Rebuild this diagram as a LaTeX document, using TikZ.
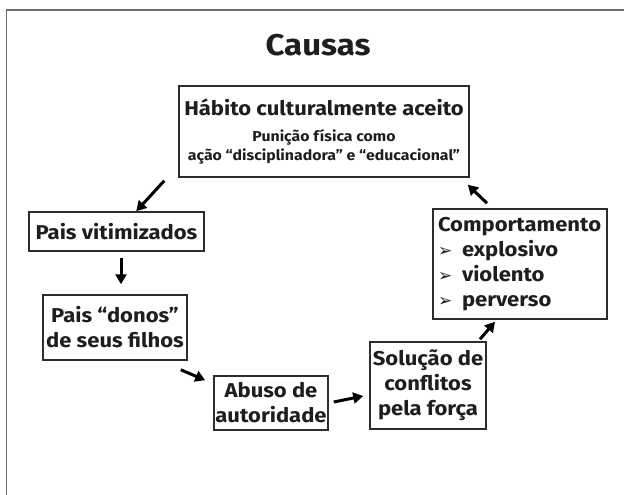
\documentclass[tikz,border=0pt]{standalone}
\usepackage{fontspec}
\setmainfont{Fira Sans}[FakeStretch=1.1]
\newfontfamily\bulletfont{DejaVu Sans}
\usetikzlibrary{arrows.meta}
\definecolor{frameGray}{RGB}{110,110,110}
\definecolor{boxGray}{RGB}{45,45,45}
\definecolor{textGray}{RGB}{30,30,30}

\newcommand{\bulletitem}[1]{\makebox[24pt][l]{\bulletfont\fontsize{17}{17}\selectfont ➢}#1}

\begin{document}
\begin{tikzpicture}[%
    x=1pt, y=-1pt,
    causebox/.style={
        draw=boxGray,
        line width=1.5pt,
        inner sep=0pt,
        align=center,
        text=textGray,
        font=\bfseries\fontsize{20}{25}\selectfont,
    },
    arr/.style={
        line width=3pt,
        -{Triangle[length=10pt,width=11pt]},
    },
]
\useasboundingbox (0,0) rectangle (624,495);

% draw slide frame
\draw [frameGray, line width=1.2pt] (6.5,495) -- (6.5,10) -- (624,10);

% place title
\node[text=textGray, font=\bfseries\fontsize{30}{30}\selectfont] (title) at (318,45) {Causas};

% place boxes
\node[causebox, minimum width=290pt, minimum height=91pt] (habito) at (324,131.5)
    {Hábito culturalmente aceito\\[0.5pt]
     {\fontsize{14.4}{19}\selectfont Punição física como}\\[-5.7pt]
     {\fontsize{14.4}{19}\selectfont ação “disciplinadora” e “educacional”}};
\node[causebox, minimum width=175pt, minimum height=39pt] (vitimas) at (116.5,231.5)
    {Pais vitimizados};
\node[causebox, minimum width=144pt, minimum height=65pt] (donos) at (115,327.5)
    {Pais “donos”\\de seus filhos};
\node[causebox, minimum width=114pt, minimum height=54pt] (abuso) at (271,403)
    {Abuso de\\autoridade};
\node[causebox, minimum width=116pt, minimum height=87pt] (solucao) at (428,385.5)
    {Solução de\\conflitos\\pela força};
\node[causebox, minimum width=174pt, minimum height=110pt, align=left,
      text width=164pt] (comport) at (520,264)
    {Comportamento\\\bulletitem{explosivo}\\\bulletitem{violento}\\\bulletitem{perverso}};

% draw arrows of the cycle
\draw [arr] ([shift={(-14,3)}]habito.south west) -- ([xshift=108pt]vitimas.north west);
\draw [arr] ([shift={(4.5,6)}]vitimas.south) -- ([shift={(6,-10)}]donos.north);
\draw [arr] ([shift={(-7,9)}]donos.south east) -- ([shift={(-8,5)}]abuso.north west);
\draw [arr] ([shift={(5,-1)}]abuso.east) -- ([shift={(-6,10.5)}]solucao.west);
\draw [arr] ([shift={(52,-2)}]solucao.north) -- ([shift={(-25,2)}]comport.south);
\draw [arr] ([shift={(-33,-5)}]comport.north) -- ([shift={(-2,7)}]habito.south east);

\end{tikzpicture}
\end{document}
